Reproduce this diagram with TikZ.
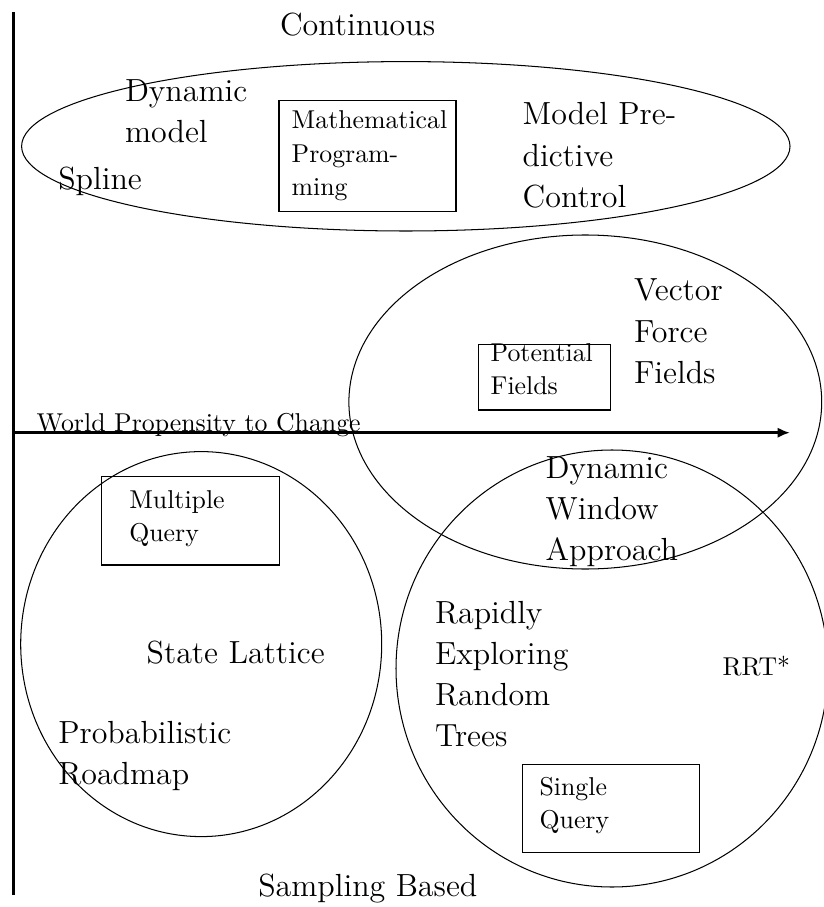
\documentclass[tikz,border=0pt]{standalone}
\usetikzlibrary{shapes.geometric,arrows.meta}
% left-aligned block of lines whose baseline is that of its first line
\newcommand\stack[1]{\begin{tabular}[t]{@{}l@{}}#1\end{tabular}}
\newcommand\pxu{0.3876pt}
\begin{document}
\begin{tikzpicture}[x=0.3876pt,y=-0.3876pt,
  big/.style={inner sep=0pt,outer sep=0pt,anchor=base west,
              font=\fontsize{12.4}{15.9}\selectfont},
  small/.style={inner sep=0pt,outer sep=0pt,anchor=base west,
              font=\fontsize{10}{12.8}\selectfont},
  region/.style={draw,ellipse,line width=0.4pt,inner sep=0pt,outer sep=0pt},
  tag/.style={draw,rectangle,line width=0.45pt,inner sep=0pt,outer sep=0pt},
  axis/.style={line width=1pt}]
\useasboundingbox (0,0) rectangle (823,907);

% axes
\coordinate (ytop) at (13.5,12.5);
\coordinate (ybot) at (13.5,895);
\coordinate (orig) at (13.5,432.7);
\coordinate (xend) at (790,432.7);
\draw[axis] (ytop) -- (ybot);
\draw[axis,-{Latex[length=4.8pt,width=4pt]}] (orig) -- (xend);

% regions
\node[region,minimum width=768.4*\pxu,minimum height=169.4*\pxu] (cont) at (405.8,146.3) {};
\node[region,minimum width=472.8*\pxu,minimum height=334*\pxu] (vff) at (585.3,402) {};
\node[region,minimum width=361*\pxu,minimum height=385*\pxu] (lat) at (201.2,644.1) {};
\node[region,minimum width=432*\pxu,minimum height=437*\pxu] (rrt) at (612,668.5) {};

% framed categories
\node[tag,minimum width=177*\pxu,minimum height=111*\pxu] (mpbox) at (367.5,156.2) {};
\node[tag,minimum width=132.4*\pxu,minimum height=65.7*\pxu] (pfbox) at (544.5,377.2) {};
\node[tag,minimum width=177.6*\pxu,minimum height=88.3*\pxu] (mqbox) at (190.5,520.9) {};
\node[tag,minimum width=177.4*\pxu,minimum height=88*\pxu] (sqbox) at (611,808.3) {};

% labels
\node[big] (tcont) at (280,36) {Continuous};
\node[big] (tdyn) at (125,101.7) {\stack{Dynamic\\model}};
\node[big] (tspl) at (58.3,190) {Spline};
\node[big] (tmpc) at (522.7,125) {\stack{Model Pre-\\dictive\\Control}};
\node[small] (tmp) at (291.7,129) {\stack{Mathematical\\Program-\\ming}};
\node[big] (tvff) at (634,301) {\stack{Vector\\Force\\Fields}};
\node[small] (tpf) at (490.7,361.7) {\stack{Potential\\Fields}};
\node[small] (tworld) at (36.7,431.7) {World Propensity to Change};
\node[big] (tdwa) at (545.7,478.3) {\stack{Dynamic\\Window\\Approach}};
\node[small] (tmq) at (129.3,508.3) {\stack{Multiple\\Query}};
\node[big] (tsl) at (146.7,663.3) {State Lattice};
\node[big] (trrt) at (435,623.3) {\stack{Rapidly\\Exploring\\Random\\Trees}};
\node[small] (trrts) at (722.7,675) {RRT*};
\node[big] (tprm) at (58.3,743.3) {\stack{Probabilistic\\Roadmap}};
\node[small] (tsq) at (539.6,795) {\stack{Single\\Query}};
\node[big] (tsamp) at (258.3,896.7) {Sampling Based};
\end{tikzpicture}
\end{document}
